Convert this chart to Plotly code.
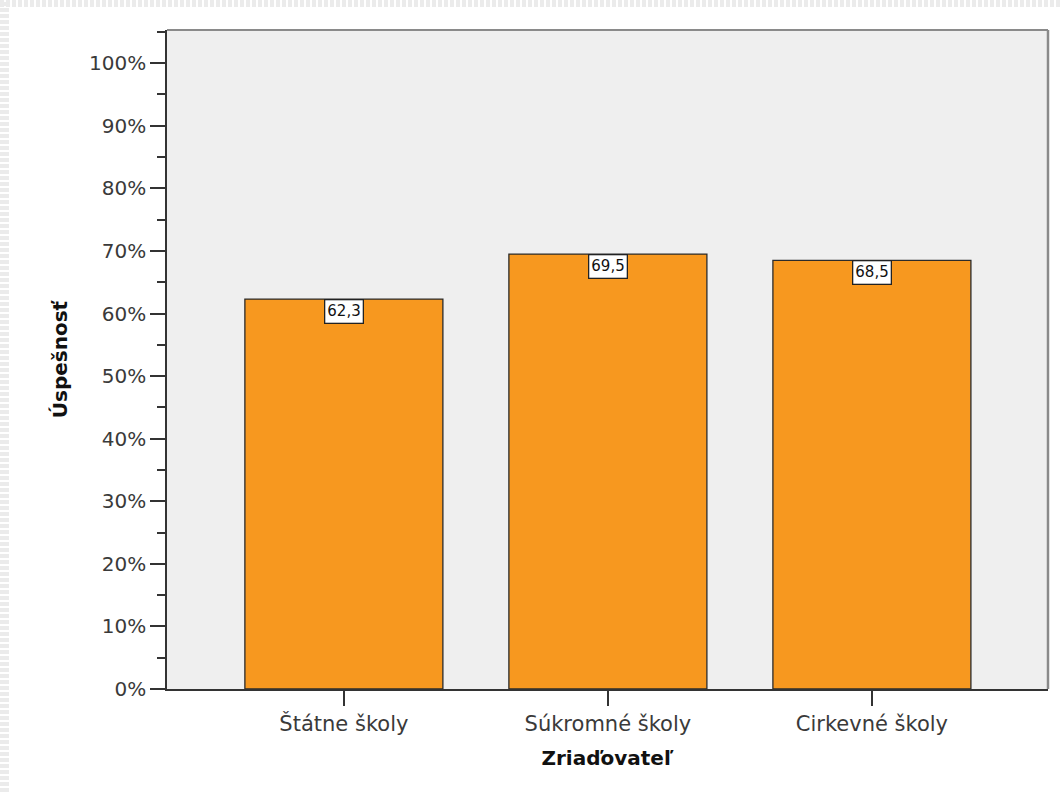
import plotly.graph_objects as go

categories = ["Štátne školy", "Súkromné školy", "Cirkevné školy"]
values = [62.3, 69.5, 68.5]
value_labels = ["62,3", "69,5", "68,5"]
tick_vals = [0, 10, 20, 30, 40, 50, 60, 70, 80, 90, 100]
tick_text = ["0%", "10%", "20%", "30%", "40%", "50%", "60%", "70%", "80%", "90%", "100%"]
minor_vals = [5, 15, 25, 35, 45, 55, 65, 75, 85, 95, 105]

FONT = "DejaVu Sans, Verdana, sans-serif"
TXT = "#3a3a3a"

fig = go.Figure()
fig.add_trace(go.Bar(
    x=list(range(len(categories))), y=values, width=0.75,
    marker=dict(color="#f7981f", line=dict(color="#2b2b2b", width=1.3)),
    hoverinfo="skip",
))

for i, (v, t) in enumerate(zip(values, value_labels)):
    fig.add_annotation(
        x=i, y=v, xref="x", yref="y", text=t, showarrow=False,
        yanchor="top", yshift=0,
        font=dict(family=FONT, size=15, color="#111111"),
        bgcolor="white", bordercolor="#222222", borderwidth=1.3, borderpad=2,
    )

fig.update_layout(
    width=1061, height=792,
    margin=dict(l=167, r=13, t=30, b=103),
    paper_bgcolor="white", plot_bgcolor="#efefef",
    showlegend=False,
    font=dict(family=FONT, size=20, color=TXT),
)
fig.update_xaxes(
    range=[-0.67, 2.667],
    tickmode="array", tickvals=list(range(len(categories))), ticktext=categories,
    ticks="outside", ticklen=15, tickwidth=1.5, tickcolor="#333333",
    showline=True, linecolor="#333333", linewidth=1.5,
    showgrid=False, zeroline=False,
    tickfont=dict(family=FONT, size=21, color=TXT),
    title=dict(text="<b>Zriaďovateľ</b>", font=dict(family=FONT, size=20, color="#111111"), standoff=16),
)
fig.update_yaxes(
    range=[0, 105.3],
    tickmode="array", tickvals=tick_vals, ticktext=tick_text,
    ticks="outside", ticklen=15, tickwidth=1.5, tickcolor="#333333",
    minor=dict(tickvals=minor_vals, ticks="outside", ticklen=8, tickwidth=1.5, tickcolor="#333333"),
    showline=True, linecolor="#333333", linewidth=1.5,
    showgrid=False, zeroline=False,
    ticklabelstandoff=0,
    tickfont=dict(family=FONT, size=20, color=TXT),
    title=dict(text="<b>Úspešnosť</b>", font=dict(family=FONT, size=20, color="#111111"), standoff=16),
)

# top and right frame lines (grey)
fig.add_shape(type="line", xref="paper", yref="paper", x0=0, x1=1, y0=1, y1=1,
              line=dict(color="#8a8a8a", width=2))
fig.add_shape(type="line", xref="paper", yref="paper", x0=1, x1=1, y0=0, y1=1,
              line=dict(color="#8a8a8a", width=2.5))

# light dotted page border (top and left)
fig.add_shape(type="line", xref="paper", yref="paper", x0=-167/881, x1=1 + 13/881, y0=1 + 30/659, y1=1 + 30/659,
              line=dict(color="#ebebeb", width=14, dash="4px,2px"), layer="below")
fig.add_shape(type="line", xref="paper", yref="paper", x0=-167/881, x1=-167/881, y0=-103/659, y1=1 + 30/659,
              line=dict(color="#ebebeb", width=18, dash="4px,2px"), layer="below")

fig.write_html("out.html", config={"displayModeBar": False},
               post_script="document.body.style.margin='0';")
